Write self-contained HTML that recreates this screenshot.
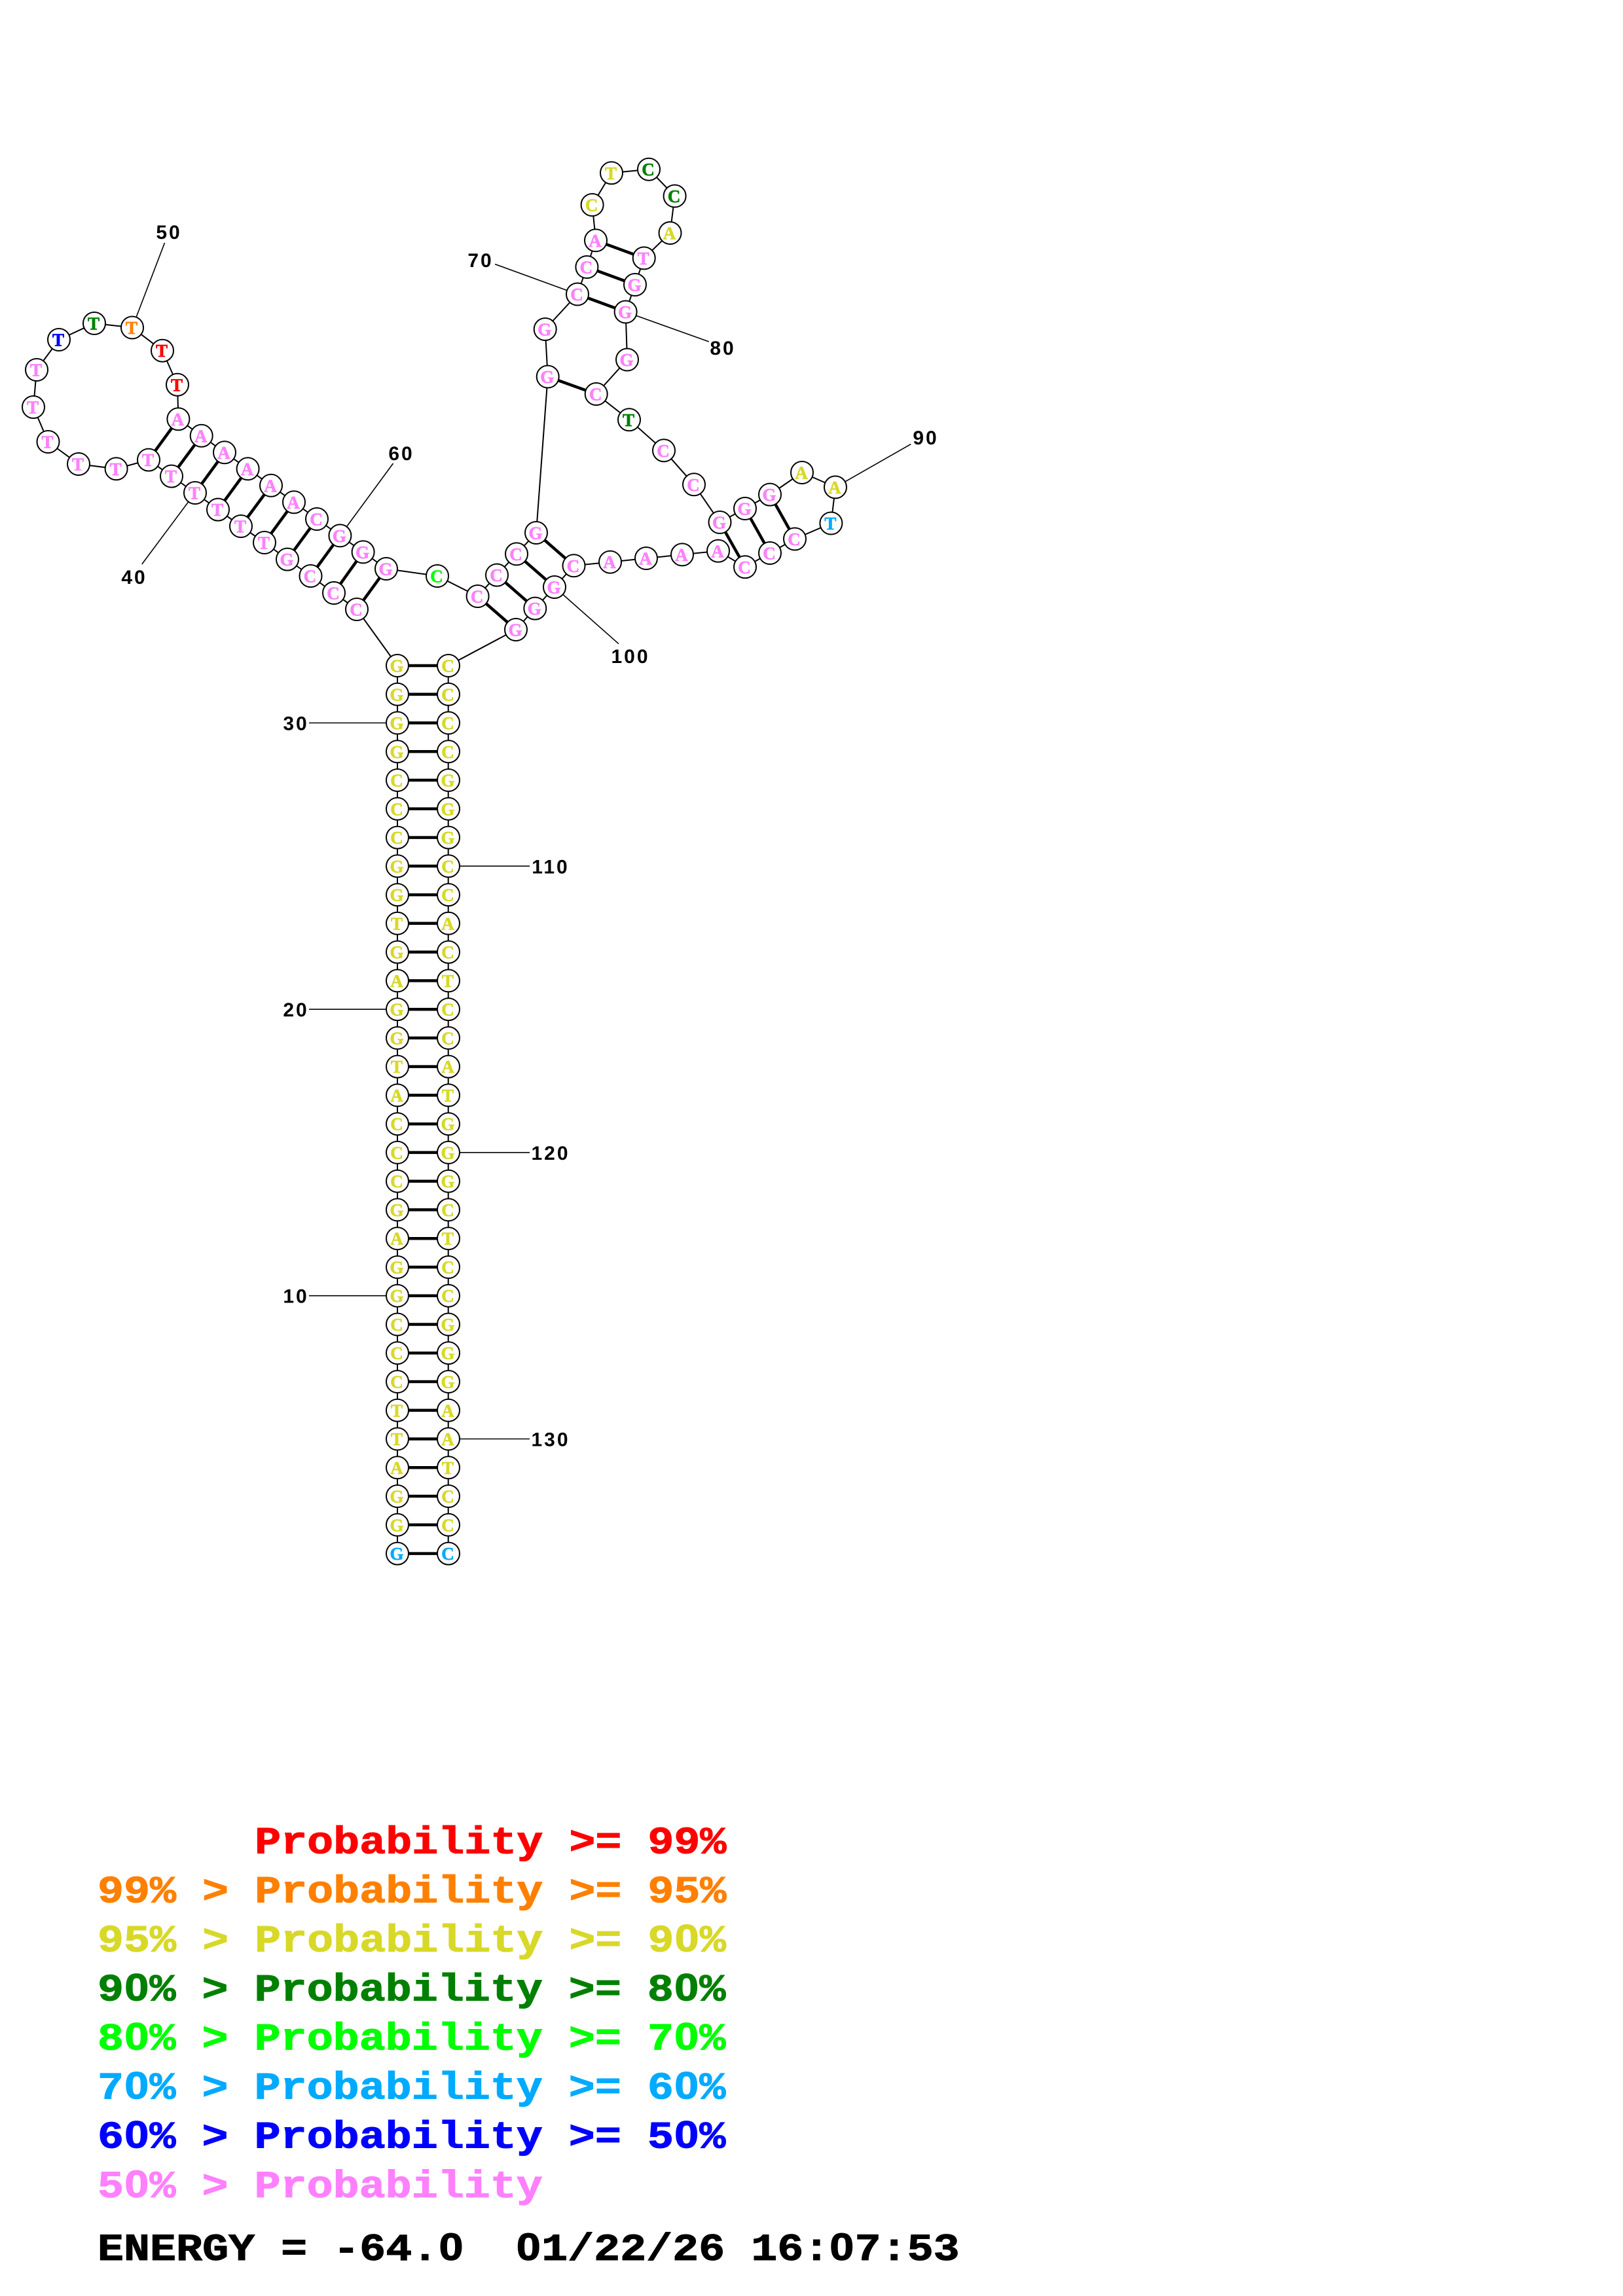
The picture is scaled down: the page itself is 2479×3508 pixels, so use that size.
<!DOCTYPE html>
<html><head><meta charset="utf-8"><style>
html,body{margin:0;padding:0;background:#fff}
svg{display:block}
.b{fill:none;stroke:#000;stroke-width:2}
.p{stroke:#000;stroke-width:4.5;fill:none}
.l{stroke:#000;stroke-width:1.6;fill:none}
circle{fill:#fff;stroke:#000;stroke-width:2}
.n text{font:bold 27px "Liberation Serif",serif;text-anchor:middle;stroke-width:.7}
.k{font:bold 30px "Liberation Sans",sans-serif;letter-spacing:3px;text-anchor:middle;fill:#000}
.g text{font:bold 66.7px "Liberation Mono",monospace;white-space:pre;stroke:#000;stroke-width:1.2}
.g tspan.z{font-family:"Liberation Sans",sans-serif}
.g text.P,.n .P{fill:#ff80ff;stroke:#ff80ff}.g text.Y,.n .Y{fill:#d8d828;stroke:#d8d828}.g text.G,.n .G{fill:#008000;stroke:#008000}.g text.R,.n .R{fill:#f00;stroke:#f00}.g text.O,.n .O{fill:#ff8000;stroke:#ff8000}.g text.B,.n .B{fill:#00f;stroke:#00f}.g text.C,.n .C{fill:#0af;stroke:#0af}.g text.L,.n .L{fill:#0f0;stroke:#0f0}
</style></head><body>
<svg xmlns="http://www.w3.org/2000/svg" width="2479" height="3508" viewBox="0 0 2479 3508">
<rect width="2479" height="3508" fill="#fff"/>
<path class="b" d="M607 2373.6V1017L545 931 510 906 474.5 880 439 854.6 404 829 368 804 333 778.6 298 753 262 727.6 227 702.6 177.6 716.3 120 709 73.5 675 51 622 56 565 90 519 144 494 202 500.5 248 535.7 271 587.8 272.4 640.3 307.7 665.8 343 691.3 378.6 716.3 414 741.8 449 767.3 484 793 519.4 818.4 554.6 843.4 590 869 668 880 729.6 911 759 878.6 789 846.4 819 814 836.7 575.5 832.7 503 882 449.5 896.4 408 910 367.3 904.6 313 934 264.3 991 258.7 1030.6 299.5 1023.5 356 983.7 394.4 970 435 955.6 476.5 958 549.5 910.7 602 961 641.3 1014 688.3 1060 740.3 1099.5 798 1138 777 1176 755.6 1225 722 1276 744.4 1269.4 799.5 1214 823.5 1176 845 1138 866.3 1097 841.8 1042 847.4 987 853 932 858.7 876.5 864.3 847 897 817.3 929.6 788 962 684.7 1017V2373.6"/>
<path class="p" d="M227 702.6L272.4 640.3M262 727.6L307.7 665.8M298 753L343 691.3M333 778.6L378.6 716.3M368 804L414 741.8M404 829L449 767.3M439 854.6L484 793M474.5 880L519.4 818.4M510 906L554.6 843.4M545 931L590 869M729.6 911L788 962M759 878.6L817.3 929.6M789 846.4L847 897M819 814L876.5 864.3M836.7 575.5L910.7 602M882 449.5L955.6 476.5M896.4 408L970 435M910 367.3L983.7 394.4M1099.5 798L1138 866.3M1138 777L1176 845M1176 755.6L1214 823.5"/>
<path class="p" d="M607 1017H685M607 1060.8H685M607 1104.5H685M607 1148.3H685M607 1192H685M607 1235.8H685M607 1279.6H685M607 1323.3H685M607 1367.1H685M607 1410.8H685M607 1454.6H685M607 1498.4H685M607 1542.1H685M607 1585.9H685M607 1629.6H685M607 1673.4H685M607 1717.2H685M607 1760.9H685M607 1804.7H685M607 1848.4H685M607 1892.2H685M607 1936H685M607 1979.7H685M607 2023.5H685M607 2067.2H685M607 2111H685M607 2154.8H685M607 2198.5H685M607 2242.3H685M607 2286H685M607 2329.8H685M607 2373.6H685"/>
<path class="l" d="M251.5 371L202 500.5M600.5 708L519.4 818.4M216.8 862L298 753M756 403.6L882 449.5M1082.7 522L955.6 476.5M1391.3 678.6L1276 744.4M945 983.7L847 897M472 1104.5H607M472 1542.1H607M472 1979.7H607M685 1323.3H809M685 1760.9H809M685 2198.5H809"/>
<g class="n">
<circle cx="607" cy="1017" r="17"/><circle cx="685" cy="1017" r="17"/><circle cx="607" cy="1060.8" r="17"/><circle cx="685" cy="1060.8" r="17"/><circle cx="607" cy="1104.5" r="17"/><circle cx="685" cy="1104.5" r="17"/><circle cx="607" cy="1148.3" r="17"/><circle cx="685" cy="1148.3" r="17"/><circle cx="607" cy="1192" r="17"/><circle cx="685" cy="1192" r="17"/><circle cx="607" cy="1235.8" r="17"/><circle cx="685" cy="1235.8" r="17"/><circle cx="607" cy="1279.6" r="17"/><circle cx="685" cy="1279.6" r="17"/><circle cx="607" cy="1323.3" r="17"/><circle cx="685" cy="1323.3" r="17"/><circle cx="607" cy="1367.1" r="17"/><circle cx="685" cy="1367.1" r="17"/><circle cx="607" cy="1410.8" r="17"/><circle cx="685" cy="1410.8" r="17"/><circle cx="607" cy="1454.6" r="17"/><circle cx="685" cy="1454.6" r="17"/><circle cx="607" cy="1498.4" r="17"/><circle cx="685" cy="1498.4" r="17"/><circle cx="607" cy="1542.1" r="17"/><circle cx="685" cy="1542.1" r="17"/><circle cx="607" cy="1585.9" r="17"/><circle cx="685" cy="1585.9" r="17"/><circle cx="607" cy="1629.6" r="17"/><circle cx="685" cy="1629.6" r="17"/><circle cx="607" cy="1673.4" r="17"/><circle cx="685" cy="1673.4" r="17"/><circle cx="607" cy="1717.2" r="17"/><circle cx="685" cy="1717.2" r="17"/><circle cx="607" cy="1760.9" r="17"/><circle cx="685" cy="1760.9" r="17"/><circle cx="607" cy="1804.7" r="17"/><circle cx="685" cy="1804.7" r="17"/><circle cx="607" cy="1848.4" r="17"/><circle cx="685" cy="1848.4" r="17"/><circle cx="607" cy="1892.2" r="17"/><circle cx="685" cy="1892.2" r="17"/><circle cx="607" cy="1936" r="17"/><circle cx="685" cy="1936" r="17"/><circle cx="607" cy="1979.7" r="17"/><circle cx="685" cy="1979.7" r="17"/><circle cx="607" cy="2023.5" r="17"/><circle cx="685" cy="2023.5" r="17"/><circle cx="607" cy="2067.2" r="17"/><circle cx="685" cy="2067.2" r="17"/><circle cx="607" cy="2111" r="17"/><circle cx="685" cy="2111" r="17"/><circle cx="607" cy="2154.8" r="17"/><circle cx="685" cy="2154.8" r="17"/><circle cx="607" cy="2198.5" r="17"/><circle cx="685" cy="2198.5" r="17"/><circle cx="607" cy="2242.3" r="17"/><circle cx="685" cy="2242.3" r="17"/><circle cx="607" cy="2286" r="17"/><circle cx="685" cy="2286" r="17"/><circle cx="607" cy="2329.8" r="17"/><circle cx="685" cy="2329.8" r="17"/><circle cx="607" cy="2373.6" r="17"/><circle cx="685" cy="2373.6" r="17"/>
<g class="Y">
<text x="606" y="1026.5">G</text><text x="684" y="1026.5">C</text><text x="606" y="1070.3">G</text><text x="684" y="1070.3">C</text><text x="606" y="1114">G</text><text x="684" y="1114">C</text><text x="606" y="1157.8">G</text><text x="684" y="1157.8">C</text><text x="606" y="1201.5">C</text><text x="684" y="1201.5">G</text><text x="606" y="1245.3">C</text><text x="684" y="1245.3">G</text><text x="606" y="1289.1">C</text><text x="684" y="1289.1">G</text><text x="606" y="1332.8">G</text><text x="684" y="1332.8">C</text><text x="606" y="1376.6">G</text><text x="684" y="1376.6">C</text><text x="606" y="1420.3">T</text><text x="684" y="1420.3">A</text><text x="606" y="1464.1">G</text><text x="684" y="1464.1">C</text><text x="606" y="1507.9">A</text><text x="684" y="1507.9">T</text><text x="606" y="1551.6">G</text><text x="684" y="1551.6">C</text><text x="606" y="1595.4">G</text><text x="684" y="1595.4">C</text><text x="606" y="1639.1">T</text><text x="684" y="1639.1">A</text><text x="606" y="1682.9">A</text><text x="684" y="1682.9">T</text><text x="606" y="1726.7">C</text><text x="684" y="1726.7">G</text><text x="606" y="1770.4">C</text><text x="684" y="1770.4">G</text><text x="606" y="1814.2">C</text><text x="684" y="1814.2">G</text><text x="606" y="1857.9">G</text><text x="684" y="1857.9">C</text><text x="606" y="1901.7">A</text><text x="684" y="1901.7">T</text><text x="606" y="1945.5">G</text><text x="684" y="1945.5">C</text><text x="606" y="1989.2">G</text><text x="684" y="1989.2">C</text><text x="606" y="2033">C</text><text x="684" y="2033">G</text><text x="606" y="2076.7">C</text><text x="684" y="2076.7">G</text><text x="606" y="2120.5">C</text><text x="684" y="2120.5">G</text><text x="606" y="2164.3">T</text><text x="684" y="2164.3">A</text><text x="606" y="2208">T</text><text x="684" y="2208">A</text><text x="606" y="2251.8">A</text><text x="684" y="2251.8">T</text><text x="606" y="2295.5">G</text><text x="684" y="2295.5">C</text><text x="606" y="2339.3">G</text><text x="684" y="2339.3">C</text>
</g>
<g class="C"><text x="606" y="2383.1">G</text><text x="684" y="2383.1">C</text></g>
<circle cx="545" cy="931" r="17"/><circle cx="510" cy="906" r="17"/><circle cx="474.5" cy="880" r="17"/><circle cx="439" cy="854.6" r="17"/><circle cx="404" cy="829" r="17"/><circle cx="368" cy="804" r="17"/><circle cx="333" cy="778.6" r="17"/><circle cx="298" cy="753" r="17"/><circle cx="262" cy="727.6" r="17"/><circle cx="227" cy="702.6" r="17"/><circle cx="177.6" cy="716.3" r="17"/><circle cx="120" cy="709" r="17"/><circle cx="73.5" cy="675" r="17"/><circle cx="51" cy="622" r="17"/><circle cx="56" cy="565" r="17"/><circle cx="90" cy="519" r="17"/><circle cx="144" cy="494" r="17"/><circle cx="202" cy="500.5" r="17"/><circle cx="248" cy="535.7" r="17"/><circle cx="271" cy="587.8" r="17"/><circle cx="272.4" cy="640.3" r="17"/><circle cx="307.7" cy="665.8" r="17"/><circle cx="343" cy="691.3" r="17"/><circle cx="378.6" cy="716.3" r="17"/><circle cx="414" cy="741.8" r="17"/><circle cx="449" cy="767.3" r="17"/><circle cx="484" cy="793" r="17"/><circle cx="519.4" cy="818.4" r="17"/><circle cx="554.6" cy="843.4" r="17"/><circle cx="590" cy="869" r="17"/><circle cx="668" cy="880" r="17"/><circle cx="729.6" cy="911" r="17"/><circle cx="759" cy="878.6" r="17"/><circle cx="789" cy="846.4" r="17"/><circle cx="819" cy="814" r="17"/><circle cx="836.7" cy="575.5" r="17"/><circle cx="832.7" cy="503" r="17"/><circle cx="882" cy="449.5" r="17"/><circle cx="896.4" cy="408" r="17"/><circle cx="910" cy="367.3" r="17"/><circle cx="904.6" cy="313" r="17"/><circle cx="934" cy="264.3" r="17"/><circle cx="991" cy="258.7" r="17"/><circle cx="1030.6" cy="299.5" r="17"/><circle cx="1023.5" cy="356" r="17"/><circle cx="983.7" cy="394.4" r="17"/><circle cx="970" cy="435" r="17"/><circle cx="955.6" cy="476.5" r="17"/><circle cx="958" cy="549.5" r="17"/><circle cx="910.7" cy="602" r="17"/><circle cx="961" cy="641.3" r="17"/><circle cx="1014" cy="688.3" r="17"/><circle cx="1060" cy="740.3" r="17"/><circle cx="1099.5" cy="798" r="17"/><circle cx="1138" cy="777" r="17"/><circle cx="1176" cy="755.6" r="17"/><circle cx="1225" cy="722" r="17"/><circle cx="1276" cy="744.4" r="17"/><circle cx="1269.4" cy="799.5" r="17"/><circle cx="1214" cy="823.5" r="17"/><circle cx="1176" cy="845" r="17"/><circle cx="1138" cy="866.3" r="17"/><circle cx="1097" cy="841.8" r="17"/><circle cx="1042" cy="847.4" r="17"/><circle cx="987" cy="853" r="17"/><circle cx="932" cy="858.7" r="17"/><circle cx="876.5" cy="864.3" r="17"/><circle cx="847" cy="897" r="17"/><circle cx="817.3" cy="929.6" r="17"/><circle cx="788" cy="962" r="17"/>
<g class="P">
<text x="544" y="940.5">C</text><text x="509" y="915.5">C</text><text x="473.5" y="889.5">C</text><text x="438" y="864.1">G</text><text x="403" y="838.5">T</text><text x="367" y="813.5">T</text><text x="332" y="788.1">T</text><text x="297" y="762.5">T</text><text x="261" y="737.1">T</text><text x="226" y="712.1">T</text><text x="176.6" y="725.8">T</text><text x="119" y="718.5">T</text><text x="72.5" y="684.5">T</text><text x="50" y="631.5">T</text><text x="55" y="574.5">T</text>
<text x="271.4" y="649.8">A</text><text x="306.7" y="675.3">A</text><text x="342" y="700.8">A</text><text x="377.6" y="725.8">A</text><text x="413" y="751.3">A</text><text x="448" y="776.8">A</text><text x="483" y="802.5">C</text><text x="518.4" y="827.9">G</text><text x="553.6" y="852.9">G</text><text x="589" y="878.5">G</text>
<text x="728.6" y="920.5">C</text><text x="758" y="888.1">C</text><text x="788" y="855.9">C</text><text x="818" y="823.5">G</text><text x="835.7" y="585">G</text><text x="831.7" y="512.5">G</text><text x="881" y="459">C</text><text x="895.4" y="417.5">C</text><text x="909" y="376.8">A</text><text x="982.7" y="403.9">T</text><text x="969" y="444.5">G</text><text x="954.6" y="486">G</text><text x="957" y="559">G</text><text x="909.7" y="611.5">C</text><text x="1013" y="697.8">C</text><text x="1059" y="749.8">C</text><text x="1098.5" y="807.5">G</text><text x="1137" y="786.5">G</text><text x="1175" y="765.1">G</text><text x="1213" y="833">C</text><text x="1175" y="854.5">C</text><text x="1137" y="875.8">C</text><text x="1096" y="851.3">A</text><text x="1041" y="856.9">A</text><text x="986" y="862.5">A</text><text x="931" y="868.2">A</text><text x="875.5" y="873.8">C</text><text x="846" y="906.5">G</text><text x="816.3" y="939.1">G</text><text x="787" y="971.5">G</text>
</g>
<g class="B"><text x="89" y="528.5">T</text></g>
<g class="G"><text x="143" y="503.5">T</text><text x="990" y="268.2">C</text><text x="1029.6" y="309">C</text><text x="960" y="650.8">T</text></g>
<g class="O"><text x="201" y="510">T</text></g>
<g class="R"><text x="247" y="545.2">T</text><text x="270" y="597.3">T</text></g>
<g class="L"><text x="667" y="889.5">C</text></g>
<g class="Y"><text x="903.6" y="322.5">C</text><text x="933" y="273.8">T</text><text x="1022.5" y="365.5">A</text><text x="1224" y="731.5">A</text><text x="1275" y="753.9">A</text></g>
<g class="C"><text x="1268.4" y="809">T</text></g>
</g>
<text class="k" x="258" y="365">50</text><text class="k" x="613" y="703">60</text><text class="k" x="205" y="892">40</text><text class="k" x="734" y="408">70</text><text class="k" x="1104" y="542">80</text><text class="k" x="1414" y="679">90</text><text class="k" x="963" y="1013">100</text>
<text class="k" x="452" y="1115.5">30</text><text class="k" x="452" y="1553">20</text><text class="k" x="452" y="1990.7">10</text>
<text class="k" x="841" y="1334.3">110</text><text class="k" x="841" y="1771.9">120</text><text class="k" x="841" y="2209.5">130</text>
<g class="g">
<text transform="translate(149 2831.6) scale(1 .88)" class="R">      Probability &gt;= 99%</text>
<text transform="translate(149 2906.5) scale(1 .88)" class="O">99% &gt; Probability &gt;= 95%</text>
<text transform="translate(149 2981.5) scale(1 .88)" class="Y">95% &gt; Probability &gt;= 9<tspan class="z" dx="1.2">0</tspan><tspan dx="1.2">%</tspan></text>
<text transform="translate(149 3056.5) scale(1 .88)" class="G">9<tspan class="z" dx="1.2">0</tspan><tspan dx="1.2">%</tspan> &gt; Probability &gt;= 8<tspan class="z" dx="1.2">0</tspan><tspan dx="1.2">%</tspan></text>
<text transform="translate(149 3131.5) scale(1 .88)" class="L">8<tspan class="z" dx="1.2">0</tspan><tspan dx="1.2">%</tspan> &gt; Probability &gt;= 7<tspan class="z" dx="1.2">0</tspan><tspan dx="1.2">%</tspan></text>
<text transform="translate(149 3206.5) scale(1 .88)" class="C">7<tspan class="z" dx="1.2">0</tspan><tspan dx="1.2">%</tspan> &gt; Probability &gt;= 6<tspan class="z" dx="1.2">0</tspan><tspan dx="1.2">%</tspan></text>
<text transform="translate(149 3281.5) scale(1 .88)" class="B">6<tspan class="z" dx="1.2">0</tspan><tspan dx="1.2">%</tspan> &gt; Probability &gt;= 5<tspan class="z" dx="1.2">0</tspan><tspan dx="1.2">%</tspan></text>
<text transform="translate(149 3356.8) scale(1 .88)" class="P">5<tspan class="z" dx="1.2">0</tspan><tspan dx="1.2">%</tspan> &gt; Probability</text>
<text transform="translate(149 3452.8) scale(1 .88)">ENERGY = -64.<tspan class="z" dx="1.2">0</tspan><tspan dx="1.2">  </tspan><tspan class="z">0</tspan><tspan dx="1.2">1/22/26 16:</tspan><tspan class="z">0</tspan><tspan dx="1.2">7:53</tspan></text>
</g>
</svg>
</body></html>
